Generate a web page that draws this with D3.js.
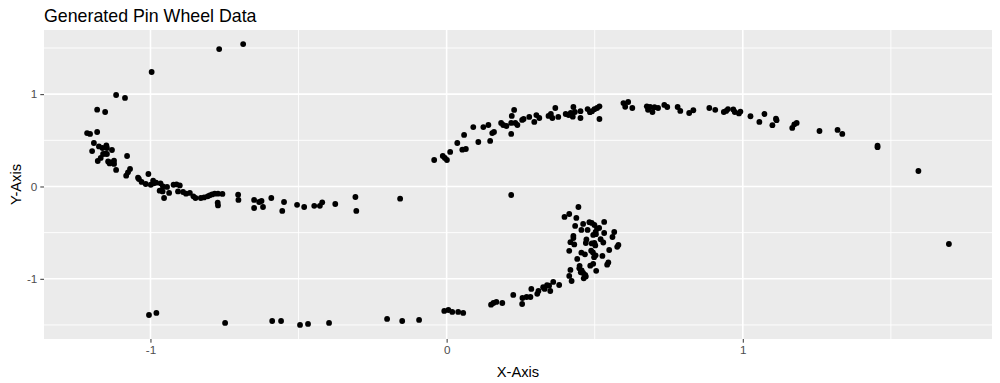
<!DOCTYPE html>
<html>

<head>
    <meta charset="utf-8">
    <style type="text/css">
        body {
            margin: 0;
            background: white;
        }

        svg text {
            font-family: "Liberation Sans", Arial, sans-serif;
        }
    </style>
    <title>Generated Pin Wheel Data</title>
</head>

<body>
    <div id="chart"></div>

    <script src="https://cdn.jsdelivr.net/npm/d3@7"></script>
    <script>

        var chartTitle = "Generated Pin Wheel Data";
        var xAxisTitle = "X-Axis";
        var yAxisTitle = "Y-Axis";

        var xTicks = [-1, 0, 1];
        var yTicks = [-1, 0, 1];
        var tickLabels = ["-1", "0", "1"];
        var xMinor = [-0.5, 0.5, 1.5];
        var yMinor = [-1.5, -0.5, 0.5, 1.5];

        // arm that curls up on the left, plus the three stray points on top
        var leftArm = [
            [-1.116, 0.991], [-1.086, 0.959], [-1.180, 0.832], [-1.153, 0.807], [-1.214, 0.579],
            [-1.204, 0.569], [-1.180, 0.590], [-1.191, 0.471], [-1.197, 0.384], [-1.174, 0.434],
            [-1.162, 0.417], [-1.149, 0.445], [-1.147, 0.417], [-1.130, 0.395], [-1.160, 0.352],
            [-1.152, 0.355], [-1.147, 0.352], [-1.168, 0.309], [-1.178, 0.276], [-1.143, 0.272],
            [-1.134, 0.261], [-1.123, 0.279], [-1.138, 0.250], [-1.123, 0.244], [-1.079, 0.330],
            [-1.116, 0.179], [-1.069, 0.190], [-1.076, 0.153], [-1.082, 0.117], [-1.007, 0.135],
            [-1.042, 0.095], [-1.039, 0.081], [-1.030, 0.049], [-1.016, 0.027], [-0.999, 0.019],
            [-0.991, 0.063], [-0.989, 0.034], [-0.981, 0.041], [-0.966, 0.034], [-0.969, -0.045],
            [-0.959, -0.053], [-0.954, -0.125], [-0.958, 0.001], [-0.944, -0.005], [-0.937, -0.070],
            [-0.922, 0.019], [-0.912, 0.023], [-0.901, 0.012], [-0.907, -0.053], [-0.890, -0.060],
            [-0.880, -0.078], [-0.867, -0.070], [-0.855, -0.107], [-0.848, -0.125], [-0.830, -0.125],
            [-0.819, -0.118], [-0.807, -0.107], [-0.800, -0.096], [-0.792, -0.086], [-0.783, -0.078],
            [-0.772, -0.078], [-0.757, -0.081], [-0.773, -0.175], [-0.772, -0.205], [-0.704, -0.089],
            [-0.703, -0.146], [-0.650, -0.146], [-0.650, -0.233], [-0.633, -0.168], [-0.625, -0.157],
            [-0.620, -0.222], [-0.592, -0.125], [-0.555, -0.265], [-0.549, -0.168], [-0.505, -0.199],
            [-0.481, -0.222], [-0.447, -0.210], [-0.428, -0.210], [-0.420, -0.172], [-0.376, -0.190],
            [-0.308, -0.114], [-0.305, -0.265], [-0.157, -0.132], [0.218, -0.092],
            [-0.996, 1.240], [-0.768, 1.489], [-0.687, 1.543]
        ];

        // arm along the bottom that runs into the spiral
        var bottomArm = [
            [-1.005, -1.392], [-0.980, -1.370], [-0.748, -1.478], [-0.589, -1.457], [-0.559, -1.457],
            [-0.495, -1.500], [-0.468, -1.489], [-0.397, -1.478], [-0.201, -1.435], [-0.150, -1.457],
            [-0.093, -1.446], [-0.008, -1.348], [0.006, -1.338], [0.019, -1.359], [0.039, -1.359],
            [0.056, -1.370], [0.150, -1.280], [0.158, -1.262], [0.168, -1.251], [0.188, -1.262],
            [0.225, -1.175], [0.255, -1.273], [0.256, -1.208], [0.270, -1.197], [0.283, -1.197],
            [0.286, -1.110], [0.306, -1.163], [0.310, -1.132], [0.326, -1.091], [0.331, -1.110],
            [0.339, -1.069], [0.346, -1.074], [0.350, -1.132], [0.360, -1.034], [0.380, -1.067]
        ];

        // the tight cluster around (0.5, -0.65)
        var spiral = [
            [0.445, -0.222], [0.398, -0.330], [0.414, -0.298], [0.438, -0.341], [0.434, -0.427],
            [0.461, -0.406], [0.482, -0.387], [0.490, -0.395], [0.499, -0.417], [0.532, -0.384],
            [0.455, -0.471], [0.476, -0.471], [0.508, -0.457], [0.515, -0.449], [0.503, -0.493],
            [0.532, -0.504], [0.566, -0.493], [0.560, -0.547], [0.428, -0.535], [0.428, -0.558],
            [0.495, -0.525], [0.504, -0.517], [0.472, -0.574], [0.470, -0.612], [0.520, -0.571],
            [0.529, -0.607], [0.418, -0.603], [0.431, -0.628], [0.490, -0.617], [0.499, -0.612],
            [0.502, -0.638], [0.580, -0.633], [0.576, -0.654], [0.414, -0.697], [0.455, -0.717],
            [0.467, -0.735], [0.488, -0.695], [0.494, -0.714], [0.503, -0.746], [0.498, -0.766],
            [0.549, -0.688], [0.526, -0.752], [0.441, -0.785], [0.546, -0.823], [0.542, -0.847],
            [0.449, -0.860], [0.448, -0.887], [0.485, -0.858], [0.495, -0.838], [0.505, -0.914],
            [0.418, -0.904], [0.414, -0.969], [0.422, -1.024], [0.456, -0.909], [0.461, -0.937],
            [0.468, -0.959], [0.453, -0.930], [0.463, -0.995], [0.470, -0.974]
        ];

        // arm across the top going out to the right
        var upperArm = [
            [-0.042, 0.287], [-0.013, 0.330], [-0.006, 0.309], [0.001, 0.287], [0.012, 0.374],
            [0.036, 0.471], [0.053, 0.399], [0.065, 0.406], [0.059, 0.558], [0.090, 0.644],
            [0.107, 0.482], [0.124, 0.644], [0.141, 0.666], [0.147, 0.493], [0.154, 0.579],
            [0.160, 0.591], [0.184, 0.688], [0.191, 0.666], [0.202, 0.655], [0.218, 0.569],
            [0.220, 0.764], [0.228, 0.829], [0.218, 0.688], [0.232, 0.688], [0.239, 0.666],
            [0.255, 0.721], [0.260, 0.731], [0.279, 0.753], [0.296, 0.699], [0.303, 0.774],
            [0.313, 0.742], [0.344, 0.764], [0.352, 0.786], [0.357, 0.742], [0.367, 0.850],
            [0.377, 0.753], [0.402, 0.785], [0.412, 0.774], [0.419, 0.796], [0.428, 0.861],
            [0.426, 0.756], [0.433, 0.807], [0.452, 0.816], [0.452, 0.742], [0.476, 0.839],
            [0.484, 0.805], [0.491, 0.816], [0.499, 0.837], [0.508, 0.850], [0.516, 0.868],
            [0.516, 0.731], [0.597, 0.904], [0.603, 0.864], [0.613, 0.915], [0.627, 0.850],
            [0.676, 0.868], [0.680, 0.830], [0.695, 0.807], [0.687, 0.861], [0.702, 0.859],
            [0.714, 0.850], [0.735, 0.884], [0.745, 0.861], [0.780, 0.861], [0.789, 0.819],
            [0.819, 0.796], [0.833, 0.826], [0.887, 0.850], [0.907, 0.830], [0.936, 0.807],
            [0.944, 0.818], [0.950, 0.839], [0.968, 0.834], [0.973, 0.807], [0.987, 0.791],
            [0.992, 0.812], [1.026, 0.761], [1.056, 0.699], [1.073, 0.785], [1.100, 0.664],
            [1.112, 0.734], [1.114, 0.718], [1.167, 0.634], [1.174, 0.673], [1.182, 0.688],
            [1.259, 0.601], [1.320, 0.613], [1.336, 0.569], [1.455, 0.442], [1.455, 0.426],
            [1.593, 0.168], [1.696, -0.623]
        ];

        var width = 1000,
            height = 383,
            margin = { top: 30, right: 8, bottom: 44, left: 44 };

        var allPoints = leftArm.concat(bottomArm, spiral, upperArm);

        // ggplot style 5% padding on each side
        function expand(ext) {
            var pad = (ext[1] - ext[0]) * 0.05;
            return [ext[0] - pad, ext[1] + pad];
        }

        var x = d3.scaleLinear()
            .domain(expand(d3.extent(allPoints, function (d) { return d[0]; })))
            .range([margin.left, width - margin.right]);

        var y = d3.scaleLinear()
            .domain(expand(d3.extent(allPoints, function (d) { return d[1]; })))
            .range([height - margin.bottom, margin.top]);

        var svg = d3.select("#chart")
            .append("svg")
            .attr("width", width)
            .attr("height", height);

        //grey panel
        svg.append("rect")
            .attr("x", margin.left)
            .attr("y", margin.top)
            .attr("width", width - margin.left - margin.right)
            .attr("height", height - margin.top - margin.bottom)
            .style("fill", "#ebebeb");

        //minor grid
        svg.selectAll(".xminor")
            .data(xMinor)
            .enter().append("line")
            .attr("x1", function (d) { return x(d); })
            .attr("x2", function (d) { return x(d); })
            .attr("y1", margin.top)
            .attr("y2", height - margin.bottom)
            .style("stroke", "white")
            .style("stroke-width", 0.9);

        svg.selectAll(".yminor")
            .data(yMinor)
            .enter().append("line")
            .attr("x1", margin.left)
            .attr("x2", width - margin.right)
            .attr("y1", function (d) { return y(d); })
            .attr("y2", function (d) { return y(d); })
            .style("stroke", "white")
            .style("stroke-width", 0.9);

        //major grid
        svg.selectAll(".xmajor")
            .data(xTicks)
            .enter().append("line")
            .attr("x1", function (d) { return x(d); })
            .attr("x2", function (d) { return x(d); })
            .attr("y1", margin.top)
            .attr("y2", height - margin.bottom)
            .style("stroke", "white")
            .style("stroke-width", 1.6);

        svg.selectAll(".ymajor")
            .data(yTicks)
            .enter().append("line")
            .attr("x1", margin.left)
            .attr("x2", width - margin.right)
            .attr("y1", function (d) { return y(d); })
            .attr("y2", function (d) { return y(d); })
            .style("stroke", "white")
            .style("stroke-width", 1.6);

        //points
        svg.selectAll(".dot")
            .data(allPoints)
            .enter().append("circle")
            .attr("cx", function (d) { return x(d[0]); })
            .attr("cy", function (d) { return y(d[1]); })
            .attr("r", 2.9)
            .style("fill", "black");

        //axes, only ticks and labels like ggplot (plain hyphen for minus)
        var xAxis = svg.append("g")
            .attr("transform", "translate(0," + (height - margin.bottom) + ")")
            .call(d3.axisBottom(x).tickValues(xTicks).tickSize(3.7).tickPadding(3)
                .tickFormat(function (d, i) { return tickLabels[i]; }));

        var yAxis = svg.append("g")
            .attr("transform", "translate(" + margin.left + ",0)")
            .call(d3.axisLeft(y).tickValues(yTicks).tickSize(3.7).tickPadding(3)
                .tickFormat(function (d, i) { return tickLabels[i]; }));

        [xAxis, yAxis].forEach(function (g) {
            g.select(".domain").remove();
            g.selectAll(".tick line").style("stroke", "#333333");
            g.selectAll(".tick text")
                .style("fill", "#4d4d4d")
                .style("font-size", "11.7px")
                .style("font-family", "Liberation Sans, Arial, sans-serif");
        });

        //titles
        svg.append("text")
            .attr("x", margin.left)
            .attr("y", 21.5)
            .text(chartTitle)
            .style("font-size", "17.8px")
            .style("fill", "black");

        svg.append("text")
            .attr("x", (margin.left + width - margin.right) / 2)
            .attr("y", 376.5)
            .attr("text-anchor", "middle")
            .text(xAxisTitle)
            .style("font-size", "14.7px")
            .style("fill", "black");

        svg.append("text")
            .attr("transform", "translate(20.5," + ((margin.top + height - margin.bottom) / 2) + ") rotate(-90)")
            .attr("text-anchor", "middle")
            .text(yAxisTitle)
            .style("font-size", "14.7px")
            .style("fill", "black");

    </script>
</body>

</html>
